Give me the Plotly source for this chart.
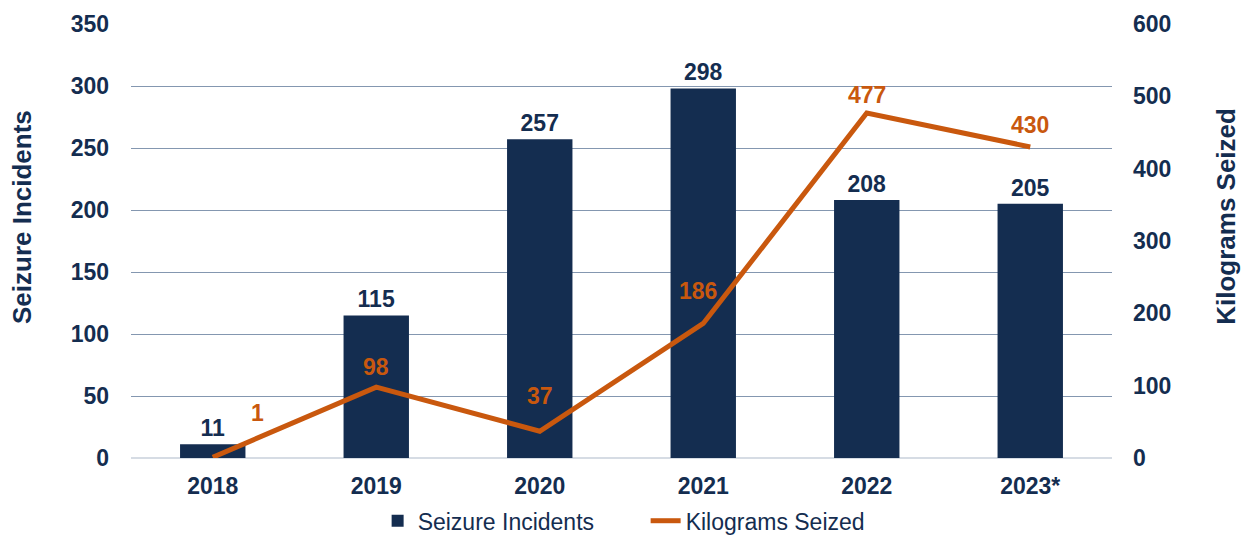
import plotly.graph_objects as go

years = ["2018", "2019", "2020", "2021", "2022", "2023*"]
incidents = [11, 115, 257, 298, 208, 205]
kilograms = [1, 98, 37, 186, 477, 430]
left_ticks = [0, 50, 100, 150, 200, 250, 300, 350]
right_ticks = [0, 100, 200, 300, 400, 500, 600]
xpos = list(range(len(years)))

NAVY = "#142D50"
ORANGE = "#C9580E"
FONT = "Liberation Sans, Arial, sans-serif"

fig = go.Figure()
fig.add_trace(go.Bar(
    x=xpos, y=incidents, name="Seizure Incidents", width=0.4,
    marker=dict(color=NAVY, line=dict(width=0)),
    text=[f"<b>{v}</b>" for v in incidents], textposition="outside",
    textfont=dict(family=FONT, size=23, color=NAVY),
    cliponaxis=False,
))
fig.add_trace(go.Scatter(
    x=xpos, y=kilograms, name="Kilograms Seized", yaxis="y2",
    mode="lines", line=dict(color=ORANGE, width=5),
))

# orange data labels offsets (px)
offsets = [(45, 44), (0, 20), (0, 35), (-5, 32), (0, 18), (0, 22)]
for xi, v, (dx, dy) in zip(xpos, kilograms, offsets):
    fig.add_annotation(x=xi, y=v, yref="y2", text=f"<b>{v}</b>", showarrow=False,
                       xshift=dx, yshift=dy,
                       font=dict(family=FONT, size=23, color=ORANGE))

# axis titles as annotations (slightly above plot centre, as in reference)
fig.add_annotation(x=-0.1111, y=0.5553, xref="paper", yref="paper", textangle=-90,
                   text="<b>Seizure Incidents</b>", showarrow=False,
                   xanchor="center", yanchor="middle",
                   font=dict(family=FONT, size=26, color=NAVY))
fig.add_annotation(x=1.116, y=0.5576, xref="paper", yref="paper", textangle=-90,
                   text="<b>Kilograms Seized</b>", showarrow=False,
                   xanchor="center", yanchor="middle",
                   font=dict(family=FONT, size=26, color=NAVY))

# page body has an 8px margin: figure is laid out 8px smaller
fig.update_layout(
    width=1241, height=527,
    margin=dict(l=123, r=137, t=16, b=77, autoexpand=False),
    paper_bgcolor="white", plot_bgcolor="white",
    font=dict(family=FONT, color=NAVY),
    showlegend=True,
    legend=dict(orientation="h", x=0.5138, xanchor="center", xref="container",
                y=0.027, yanchor="middle", yref="container",
                entrywidth=223, entrywidthmode="pixels",
                font=dict(family=FONT, size=23, color=NAVY)),
    xaxis=dict(range=[-0.5, 5.5], tickvals=xpos, ticktext=[f"<b>{y}</b>" for y in years],
               tickfont=dict(family=FONT, size=23, color=NAVY),
               showgrid=False, showline=False, zeroline=False, ticks="", ticklabelstandoff=12),
    yaxis=dict(range=[0, 350], tickvals=left_ticks, showgrid=True, gridcolor="#8497B0",
               gridwidth=1, zeroline=True, zerolinecolor="#D6DCE4", zerolinewidth=1.5,
               tickfont=dict(family=FONT, size=23, color=NAVY, weight="bold"),
               ticklabelstandoff=21),
    yaxis2=dict(range=[0, 600], tickvals=right_ticks, overlaying="y", side="right",
                showgrid=False, zeroline=False,
                tickfont=dict(family=FONT, size=23, color=NAVY, weight="bold"),
                ticklabelstandoff=20),
)

fig.write_html("out.html")
